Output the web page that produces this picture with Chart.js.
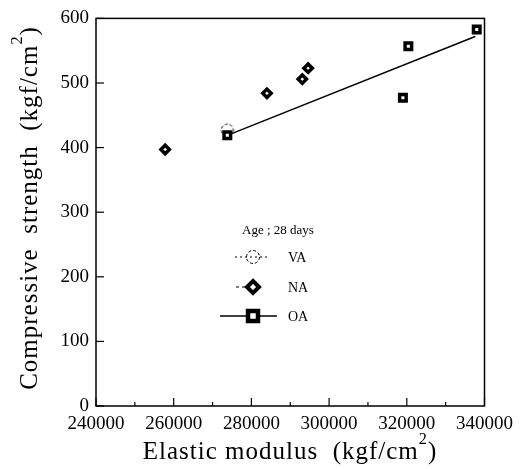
<!DOCTYPE html>
<html>
<head>
<meta charset="utf-8">
<script src="https://cdn.jsdelivr.net/npm/chart.js@4.4.1/dist/chart.umd.min.js"></script>
<style>
  html, body { margin: 0; padding: 0; background: #fff; }
  #wrap { width: 520px; height: 469px; }
</style>
</head>
<body>
<div id="wrap"><canvas id="grafico"></canvas></div>
<script>
// Datos
const vaX = [273800];
const vaY = [427];
const naX = [257800, 284000, 293100, 294600];
const naY = [397, 484, 506, 523];
const oaX = [273800, 319000, 320400, 338000];
const oaY = [419, 477, 557, 583];
// Recta de ajuste OA
const lineaX = [273800, 337600];
const lineaY = [419, 572];
const xTicks = [240000, 260000, 280000, 300000, 320000, 340000];
const yTicks = [0, 100, 200, 300, 400, 500, 600];

const SERIF = '"Liberation Serif", "DejaVu Serif", serif';

function puntos(xs, ys) {
    return xs.map((x, i) => ({ x: x, y: ys[i] }));
}

// Círculo discontinuo (VA)
function circuloDiscontinuo(r) {
    const c = document.createElement('canvas');
    c.width = c.height = r * 2 + 4;
    const g = c.getContext('2d');
    g.setLineDash([3, 2]);
    g.lineWidth = 1;
    g.strokeStyle = '#000';
    g.beginPath();
    g.arc(r + 2, r + 2, r, 0, Math.PI * 2);
    g.stroke();
    return c;
}
const marcaVA = circuloDiscontinuo(6);

// Texto con superíndice
function textoSup(ctx, partes, x, y, size) {
    let w = 0;
    partes.forEach(p => {
        ctx.font = (p.sup ? size * 0.65 : size) + 'px ' + SERIF;
        w += ctx.measureText(p.t).width;
    });
    let cx = x - w / 2;
    partes.forEach(p => {
        const s = p.sup ? size * 0.65 : size;
        ctx.font = s + 'px ' + SERIF;
        ctx.fillText(p.t, cx, p.sup ? y - size * 0.5 : y);
        cx += ctx.measureText(p.t).width;
    });
}

const decoracion = {
    id: 'decoracion',
    afterDraw(chart) {
        const ctx = chart.ctx;
        const a = chart.chartArea;
        const sx = chart.scales.x;
        const sy = chart.scales.y;
        ctx.save();
        ctx.strokeStyle = '#000';
        ctx.fillStyle = '#000';

        // Marco
        ctx.lineWidth = 1.5;
        ctx.strokeRect(a.left, a.top, a.right - a.left, a.bottom - a.top);

        // Marcas hacia dentro
        ctx.lineWidth = 1.2;
        for (let v = 240000; v <= 340000; v += 10000) {
            const px = sx.getPixelForValue(v);
            const len = (v % 20000 === 0) ? 8 : 4;
            ctx.beginPath();
            ctx.moveTo(px, a.bottom);
            ctx.lineTo(px, a.bottom - len);
            ctx.stroke();
        }
        yTicks.forEach(v => {
            const py = sy.getPixelForValue(v);
            ctx.beginPath();
            ctx.moveTo(a.left, py);
            ctx.lineTo(a.left + 8, py);
            ctx.stroke();
        });

        // Títulos de ejes
        ctx.textBaseline = 'middle';
        ctx.textAlign = 'left';
        ctx.letterSpacing = '1px';
        textoSup(ctx, [{ t: 'Elastic modulus  (kgf/cm' }, { t: '2', sup: true }, { t: ')' }], 290, 452, 25);
        ctx.save();
        ctx.translate(30, 208);
        ctx.rotate(-Math.PI / 2);
        textoSup(ctx, [{ t: 'Compressive  strength  (kgf/cm' }, { t: '2', sup: true }, { t: ')' }], 0, 0, 25);
        ctx.restore();
        ctx.letterSpacing = '0px';

        // Leyenda
        ctx.font = '13px ' + SERIF;
        ctx.fillText('Age ; 28 days', 242, 231);

        const mx = 253;
        // VA
        ctx.lineWidth = 1;
        ctx.setLineDash([2, 3]);
        ctx.beginPath();
        ctx.moveTo(235, 257); ctx.lineTo(270, 257);
        ctx.stroke();
        ctx.setLineDash([3, 2]);
        ctx.beginPath();
        ctx.arc(mx, 257, 6.5, 0, Math.PI * 2);
        ctx.stroke();
        ctx.setLineDash([]);
        ctx.font = '14px ' + SERIF;
        ctx.fillText('VA', 288, 258);

        // NA
        ctx.setLineDash([3, 3]);
        ctx.beginPath();
        ctx.moveTo(236, 287); ctx.lineTo(247, 287);
        ctx.stroke();
        ctx.setLineDash([]);
        ctx.lineWidth = 4;
        ctx.fillStyle = '#fff';
        ctx.beginPath();
        ctx.moveTo(mx, 281); ctx.lineTo(mx + 6, 287); ctx.lineTo(mx, 293); ctx.lineTo(mx - 6, 287);
        ctx.closePath();
        ctx.fill(); ctx.stroke();
        ctx.fillStyle = '#000';
        ctx.fillText('NA', 288, 288);

        // OA
        ctx.lineWidth = 1.5;
        ctx.beginPath();
        ctx.moveTo(220, 316); ctx.lineTo(277, 316);
        ctx.stroke();
        ctx.lineWidth = 4.5;
        ctx.fillStyle = '#fff';
        ctx.fillRect(mx - 5, 311, 10, 10);
        ctx.strokeRect(mx - 5, 311, 10, 10);
        ctx.fillStyle = '#000';
        ctx.fillText('OA', 288, 317);

        ctx.restore();
    }
};

new Chart(document.getElementById('grafico'), {
    type: 'scatter',
    data: {
        datasets: [
            {
                label: 'OA',
                data: puntos(oaX, oaY),
                pointStyle: 'rect',
                pointRadius: 4.6,
                borderWidth: 3.5,
                borderColor: '#000',
                backgroundColor: '#fff',
                order: 1
            },
            {
                label: 'NA',
                data: puntos(naX, naY),
                pointStyle: 'rectRot',
                pointRadius: 4.2,
                borderWidth: 3.5,
                borderColor: '#000',
                backgroundColor: '#fff',
                order: 2
            },
            {
                label: 'OA fit',
                type: 'line',
                data: puntos(lineaX, lineaY),
                borderColor: '#000',
                borderWidth: 1.5,
                pointRadius: 0,
                fill: false,
                order: 3
            },
            {
                label: 'VA',
                data: puntos(vaX, vaY),
                pointStyle: marcaVA,
                order: 4
            }
        ]
    },
    options: {
        responsive: true,
        maintainAspectRatio: false,
        animation: false,
        layout: { padding: { top: 18, right: 35, left: 0, bottom: 0 } },
        plugins: {
            legend: { display: false },
            tooltip: { enabled: false }
        },
        scales: {
            x: {
                type: 'linear',
                min: 240000,
                max: 340000,
                afterFit: s => { s.height = 63; },
                afterBuildTicks: s => { s.ticks = xTicks.map(v => ({ value: v })); },
                grid: { display: false, drawTicks: false },
                border: { display: false },
                ticks: {
                    padding: 7,
                    color: '#000',
                    font: { family: SERIF, size: 19 },
                    callback: v => String(v),
                    maxRotation: 0
                }
            },
            y: {
                min: 0,
                max: 600,
                afterFit: s => { s.width = 96; },
                afterBuildTicks: s => { s.ticks = yTicks.map(v => ({ value: v })); },
                grid: { display: false, drawTicks: false },
                border: { display: false },
                ticks: {
                    padding: 7,
                    color: '#000',
                    font: { family: SERIF, size: 19 },
                    callback: v => String(v)
                }
            }
        }
    },
    plugins: [decoracion]
});
</script>
</body>
</html>
